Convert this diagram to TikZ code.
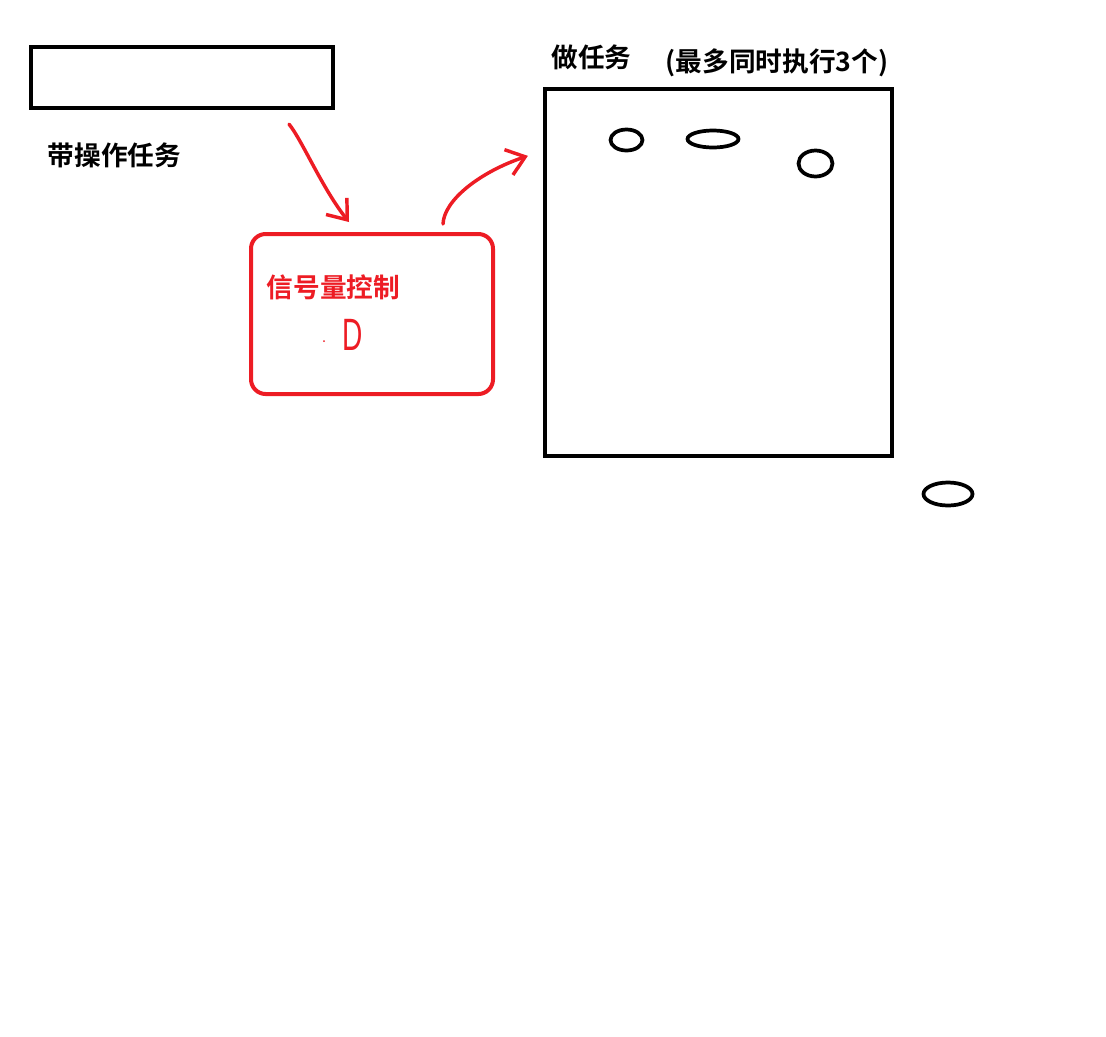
\documentclass[tikz,border=0pt]{standalone}
\usepackage{fontspec}
\newfontfamily\cjk{Noto Sans CJK SC}[BoldFont={Noto Sans CJK SC Bold}]
\newfontfamily\handfont{Liberation Sans}
\usetikzlibrary{shapes.geometric,arrows.meta}
\definecolor{semred}{RGB}{237,28,36}
\definecolor{semink}{RGB}{0,0,0}
\tikzset{
	taskbox/.style={draw=semink, line width=3.2pt, inner sep=0pt},
	gatebox/.style={draw=semred, line width=3pt, rounded corners=11pt, inner sep=0pt},
	slot/.style={ellipse, draw=semink, line width=2.8pt, inner sep=0pt},
	handarrow/.style={draw=semred, line width=2.6pt, line cap=round, line join=round, -{Straight Barb[length=13pt, width=20pt]}},
	biglabel/.style={font=\cjk\bfseries\fontsize{20}{24}\selectfont, align=center, inner sep=0pt, text=semink}
}

\begin{document}
\begin{tikzpicture}[x=0.75pt,y=-0.75pt]
		
		\useasboundingbox (0,0) rectangle (1106,1036);
		
		\node[taskbox, minimum width=226.5pt, minimum height=45.75pt] (pending) at (182,77.5) {};
		\node[gatebox, minimum width=181.5pt, minimum height=120pt] (gate) at (372,314) {};
		\node[taskbox, minimum width=260.25pt, minimum height=275.25pt] (worker) at (718.5,272.5) {};
		
		\node[biglabel] (pendinglabel) at (114.5,155) {带操作任务};
		\node[biglabel, text=semred] (gatelabel) at (333.5,287) {信号量控制};
		\node[biglabel] (workerlabel) at (591.5,57) {做任务};
		\node[biglabel] (limitlabel) at (777,63) {(最多同时执行3个)};
		\node[text=semred, font=\handfont\fontsize{34}{34}\selectfont, inner sep=0pt] (count) at (353,335) {\scalebox{0.62}[1]{D}};
		\fill[semred] (324,341) circle (1);
		
		\node[slot, minimum width=24pt, minimum height=15.75pt] (slota) at (626.5,140) {};
		\node[slot, minimum width=38.25pt, minimum height=12.75pt] (slotb) at (713,139) {};
		\node[slot, minimum width=25.5pt, minimum height=19.5pt] (slotc) at (815.5,163.5) {};
		\node[slot, minimum width=36.75pt, minimum height=17.25pt] (slotd) at (948,494) {};
		
		\coordinate (pick) at ([shift={(107,14)}]pending.south);
		\coordinate (drop) at ([shift={(-23,-10)}]gate.north);
		\coordinate (pass) at ([shift={(71,-8)}]gate.north);
		\coordinate (enter) at ([shift={(-15,69)}]worker.north west);
		
		\draw[handarrow] (pick) .. controls (302,140) and (322,188) .. (drop);
		\draw[handarrow] (pass) .. controls (444,200) and (480,172) .. (enter);
		
	\end{tikzpicture}
\end{document}
